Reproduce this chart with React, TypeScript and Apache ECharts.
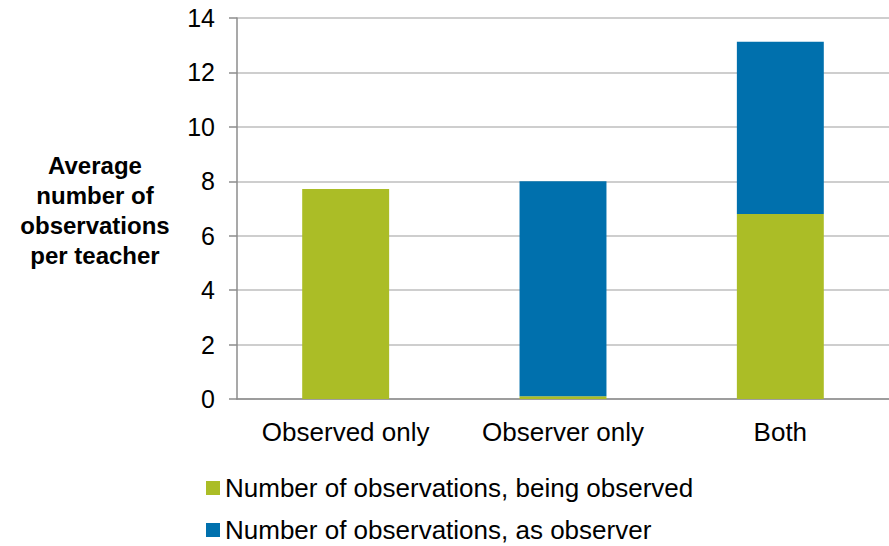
import React, { useEffect, useRef } from "react";
import * as echarts from "echarts";

const categories = ["Observed only", "Observer only", "Both"];
const beingObserved = [7.72, 0.1, 6.8];
const asObserver = [0, 7.9, 6.33];
const seriesNames = [
  "Number of observations, being observed",
  "Number of observations, as observer",
];
const yTitle = "Average\nnumber of\nobservations\nper teacher";

export default function App() {
  const ref = useRef<HTMLDivElement>(null);
  useEffect(() => {
    if (!ref.current) return;
    const chart = echarts.init(ref.current, null, { renderer: "svg" });
    const font = "Liberation Sans, Arial, sans-serif";
    const legendBase = {
      orient: "vertical",
      left: 206,
      itemWidth: 14,
      itemHeight: 14,
      icon: "rect",
      padding: 0,
      textStyle: { fontSize: 26, color: "#000", fontFamily: font, lineHeight: 26 },
    };
    chart.setOption({
      animation: false,
      backgroundColor: "#ffffff",
      textStyle: { fontFamily: font },
      grid: { left: 237, top: 18, width: 664, height: 381, containLabel: false },
      xAxis: {
        type: "category",
        data: categories,
        axisLine: { lineStyle: { color: "#8c8c8c", width: 1.5 } },
        axisTick: { length: 8, lineStyle: { color: "#8c8c8c", width: 1.5 } },
        axisLabel: {
          color: "#000",
          fontSize: 26,
          margin: 20,
          fontFamily: font,
          interval: 0,
          hideOverlap: false,
        },
      },
      yAxis: {
        type: "value",
        min: 0,
        max: 14,
        interval: 2,
        axisLine: { show: true, lineStyle: { color: "#8c8c8c", width: 1.5 } },
        axisTick: { show: true, length: 8, lineStyle: { color: "#8c8c8c", width: 1.5 } },
        axisLabel: { color: "#000", fontSize: 25, margin: 22, fontFamily: font },
        splitLine: { lineStyle: { color: "#bebebe", width: 1.5 } },
      },
      legend: [
        { ...legendBase, top: 475, data: [seriesNames[0]] },
        { ...legendBase, top: 517, data: [seriesNames[1]] },
      ],
      graphic: [
        {
          type: "text",
          x: 95,
          y: 210,
          style: {
            text: yTitle,
            fill: "#000",
            font: "bold 24px Liberation Sans, Arial, sans-serif",
            lineHeight: 30,
            align: "center",
            verticalAlign: "middle",
          },
        },
      ],
      series: [
        {
          name: seriesNames[0],
          type: "bar",
          stack: "total",
          barWidth: "40%",
          data: beingObserved,
          itemStyle: { color: "#abbd26" },
        },
        {
          name: seriesNames[1],
          type: "bar",
          stack: "total",
          barWidth: "40%",
          data: asObserver,
          itemStyle: { color: "#0070ad" },
        },
      ],
    });
    return () => chart.dispose();
  }, []);
  return (
    <div
      ref={ref}
      style={{ position: "fixed", left: 0, top: 0, width: 889, height: 546 }}
    />
  );
}
